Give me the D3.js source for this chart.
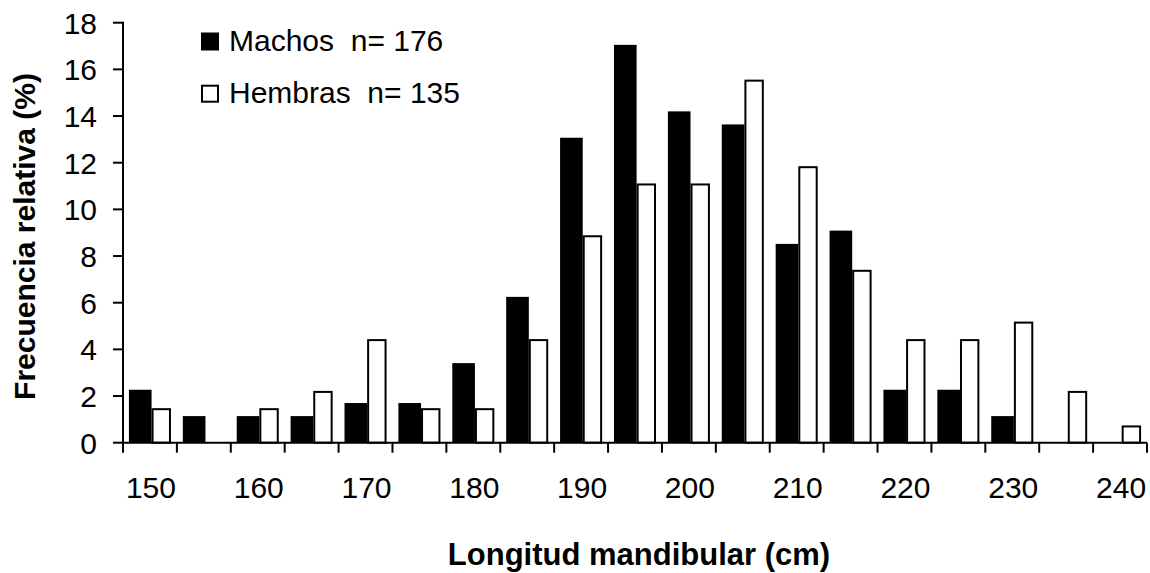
<!DOCTYPE html>
<html>
<head>
<meta charset="utf-8">
<script src="https://cdn.jsdelivr.net/npm/d3@7"></script>
<style>
  html, body { margin: 0; padding: 0; background: #fff; }
  svg { display: block; font-family: "Liberation Sans", Arial, sans-serif; }
</style>
</head>
<body>
<svg id="chart" width="1150" height="573"></svg>
<script>
const categories = [150, 155, 160, 165, 170, 175, 180, 185, 190, 195, 200, 205, 210, 215, 220, 225, 230, 235, 240];
const machos   = [2.27, 1.14, 1.14, 1.14, 1.70, 1.70, 3.41, 6.25, 13.07, 17.05, 14.20, 13.64, 8.52, 9.09, 2.27, 2.27, 1.14, 0, 0];
const hembras  = [1.48, 0, 1.48, 2.22, 4.44, 1.48, 1.48, 4.44, 8.89, 11.11, 11.11, 15.56, 11.85, 7.41, 4.44, 4.44, 5.19, 2.22, 0.74];
const xTickLabels = [150, 160, 170, 180, 190, 200, 210, 220, 230, 240];
const yTicks = [0, 2, 4, 6, 8, 10, 12, 14, 16, 18];
const seriesNames = ["Machos  n= 176", "Hembras  n= 135"];
const xTitle = "Longitud mandibular (cm)";
const yTitle = "Frecuencia relativa (%)";

(function () {
const svg = d3.select("#chart");
const pLeft = 123, pRight = 1147, pTop = 22.7, pBottom = 442.7;

const x = d3.scaleBand().domain(categories).range([pLeft, pRight]).padding(0);
const y = d3.scaleLinear().domain([0, 18]).range([pBottom, pTop]);
const bw = x.bandwidth();

// bars
const g = svg.append("g");
g.selectAll("rect.m").data(categories).join("rect")
  .attr("class", "m")
  .attr("x", d => x(d) + bw * 0.11)
  .attr("width", bw * 0.42)
  .attr("y", (d, i) => y(machos[i]))
  .attr("height", (d, i) => pBottom - y(machos[i]))
  .attr("fill", "#000");

g.selectAll("rect.h").data(categories).join("rect")
  .attr("class", "h")
  .attr("x", d => x(d) + bw * 0.53 + 1)
  .attr("width", bw * 0.36 - 2)
  .attr("y", (d, i) => y(hembras[i]) + 1)
  .attr("height", (d, i) => Math.max(0, pBottom - y(hembras[i]) - 1))
  .attr("fill", "#fff")
  .attr("stroke", "#000")
  .attr("stroke-width", 2)
  .style("display", (d, i) => hembras[i] > 0 ? null : "none");

// y axis
const yAxis = svg.append("g");
yAxis.append("line").attr("x1", pLeft).attr("x2", pLeft).attr("y1", pTop - 1).attr("y2", pBottom + 1)
  .attr("stroke", "#000").attr("stroke-width", 2);
yAxis.selectAll("line.t").data(yTicks).join("line").attr("class", "t")
  .attr("x1", pLeft - 10).attr("x2", pLeft).attr("y1", d => y(d)).attr("y2", d => y(d))
  .attr("stroke", "#000").attr("stroke-width", 2);
yAxis.selectAll("text").data(yTicks).join("text")
  .attr("x", 97).attr("y", d => y(d)).attr("dy", "0.36em")
  .attr("text-anchor", "end").attr("font-size", 30).text(d => d);

// x axis
const xAxis = svg.append("g");
xAxis.append("line").attr("x1", pLeft).attr("x2", pRight).attr("y1", pBottom).attr("y2", pBottom)
  .attr("stroke", "#000").attr("stroke-width", 2);
const boundaries = categories.map(c => x(c)).concat([x(categories[categories.length - 1]) + bw]);
xAxis.selectAll("line.t").data(boundaries).join("line").attr("class", "t")
  .attr("x1", d => d).attr("x2", d => d).attr("y1", pBottom).attr("y2", pBottom + 10)
  .attr("stroke", "#000").attr("stroke-width", 2);
xAxis.selectAll("text").data(xTickLabels).join("text")
  .attr("x", d => x(d) + bw / 2 + 1).attr("y", 498)
  .attr("text-anchor", "middle").attr("font-size", 30).text(d => d);

// titles
svg.append("text").attr("x", 639).attr("y", 565).attr("text-anchor", "middle")
  .attr("font-size", 31).attr("font-weight", "bold").text(xTitle);
svg.append("text").attr("transform", "translate(35,236.5) rotate(-90)").attr("text-anchor", "middle")
  .attr("font-size", 30).attr("font-weight", "bold").text(yTitle);

// legend
const legend = svg.append("g");
const legY = [50.5, 102.7];
legend.selectAll("rect").data(seriesNames).join("rect")
  .attr("x", (d, i) => 201 + (i ? 1 : 0)).attr("y", (d, i) => legY[i] - 18 + (i ? 1 : 0))
  .attr("width", (d, i) => i ? 16 : 18).attr("height", (d, i) => i ? 16 : 18)
  .attr("fill", (d, i) => i ? "#fff" : "#000")
  .attr("stroke", "#000").attr("stroke-width", (d, i) => i ? 2 : 0);
legend.selectAll("text").data(seriesNames).join("text")
  .attr("x", 229).attr("y", (d, i) => legY[i])
  .attr("font-size", 30).style("white-space", "pre").text(d => d);
})();
</script>
</body>
</html>
